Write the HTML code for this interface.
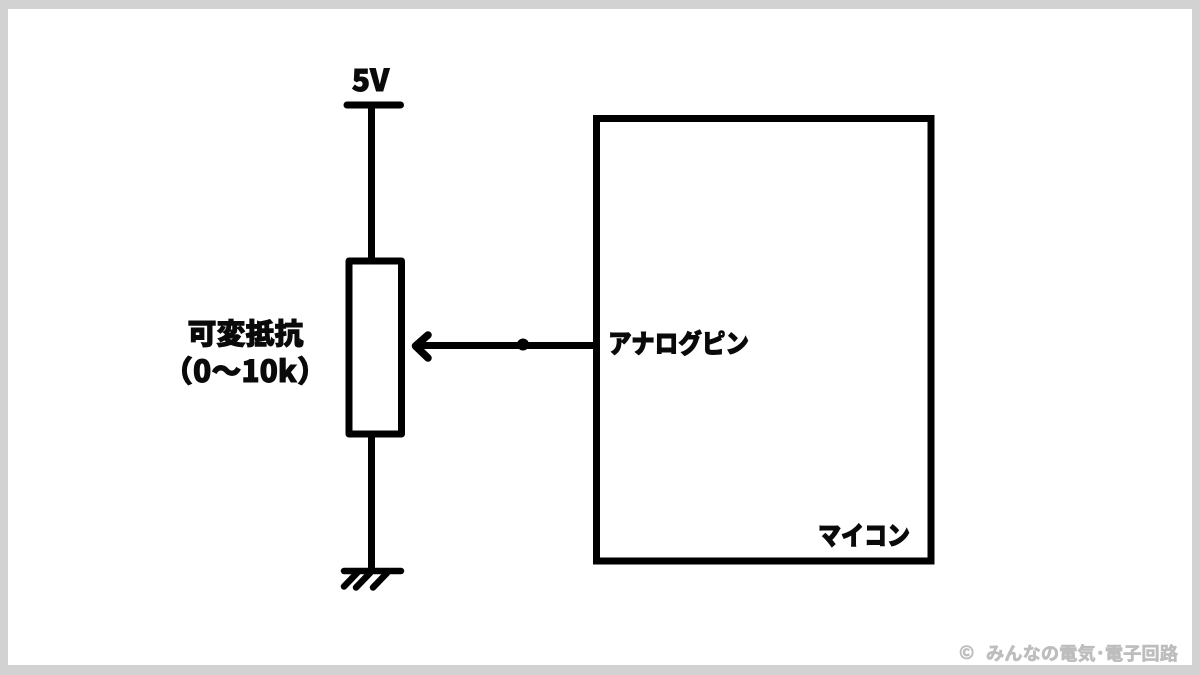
<!DOCTYPE html>
<html>
<head>
<meta charset="utf-8">
<style>
html,body{margin:0;padding:0;background:#fff;width:1200px;height:675px;overflow:hidden}
svg{display:block}
text{font-family:"Liberation Sans","Noto Sans CJK JP",sans-serif;font-weight:700;fill:#0a0a0a}
.j{font-family:"Noto Sans CJK JP","Liberation Sans",sans-serif;font-weight:900;stroke:#0a0a0a;stroke-width:.9px}
.f{font-family:"Noto Sans CJK JP","Liberation Sans",sans-serif;font-weight:700;fill:#bdbdbd;stroke:#bdbdbd;stroke-width:.6px}
</style>
</head>
<body>
<svg width="1200" height="675" viewBox="0 0 1200 675" xmlns="http://www.w3.org/2000/svg">
<rect width="1200" height="675" fill="#d2d2d2"/>
<rect x="8" y="9" width="1184" height="656" fill="#fff"/>
<g stroke="#000" fill="none" stroke-width="7">
<path d="M371.500 105V260" />
<path d="M371.500 435V571" />
<path d="M347 105H400.500" stroke-linecap="round" />
<rect x="349" y="261" width="52.500" height="173" stroke-linejoin="round"/>
<rect x="596.500" y="118.500" width="334.500" height="442.500" stroke-width="7"/>
<path d="M418 345.500H594" />
<path d="M428 335L415.500 346L428 358" stroke-linecap="round" stroke-linejoin="round" stroke-width="7.500"/>
<path d="M344 571H401" stroke-linecap="round" stroke-width="6.500"/>
<g stroke-linecap="round" stroke-width="6.500">
<path d="M344 586.500L357 573"/>
<path d="M356 587.500L370 573"/>
<path d="M373 587.500L387 573"/>
</g>
</g>
<circle cx="523" cy="344.500" r="6" fill="#000"/>
<text class="j" x="370.500" y="91" text-anchor="middle" font-size="30">5V</text>
<text class="j" x="245.500" y="344" text-anchor="middle" font-size="29" textLength="116" lengthAdjust="spacingAndGlyphs">可変抵抗</text>
<text class="j" x="245" y="382" text-anchor="middle" font-size="30" textLength="164" lengthAdjust="spacingAndGlyphs">（0〜10k）</text>
<text class="j" x="608" y="353" font-size="26" textLength="141" lengthAdjust="spacingAndGlyphs">アナログピン</text>
<text class="j" x="818" y="545" font-size="26" textLength="92" lengthAdjust="spacingAndGlyphs">マイコン</text>
<text class="f" x="959" y="659" font-size="18">©</text>
<text class="f" x="986" y="660" font-size="18" textLength="192" lengthAdjust="spacingAndGlyphs">みんなの電気･電子回路</text>
</svg>
</body>
</html>
